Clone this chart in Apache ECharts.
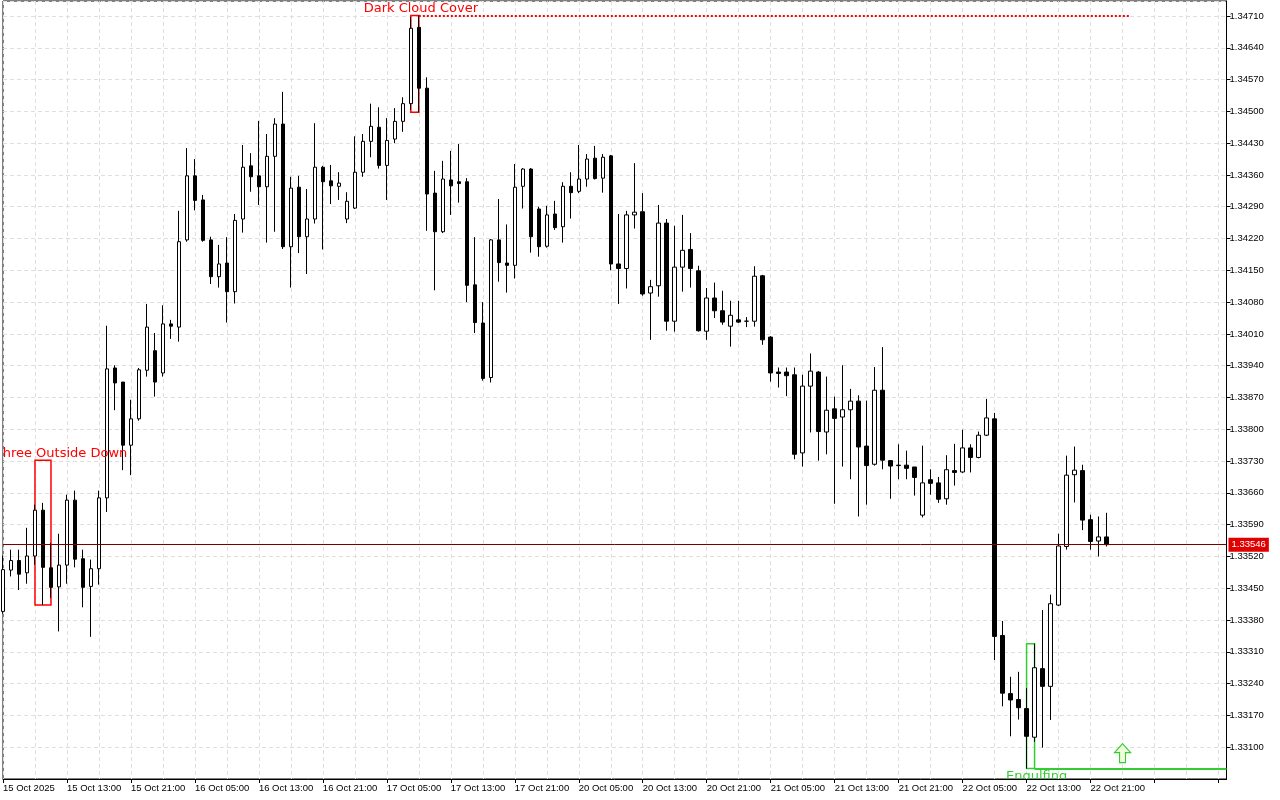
<!DOCTYPE html>
<html><head><meta charset="utf-8">
<script src="https://cdn.jsdelivr.net/npm/echarts@6/dist/echarts.min.js"></script>
<style>html,body{margin:0;padding:0;background:#fff}#c{width:1280px;height:800px}</style>
</head><body><div id="c"></div>
<script>
// Hourly candles, 15 Oct 2025 05:00 -> 22 Oct 2025 23:00 (139 bars)
const tickLabels = ['15 Oct 2025','15 Oct 13:00','15 Oct 21:00','16 Oct 05:00','16 Oct 13:00','16 Oct 21:00',
  '17 Oct 05:00','17 Oct 13:00','17 Oct 21:00','20 Oct 05:00','20 Oct 13:00','20 Oct 21:00',
  '21 Oct 05:00','21 Oct 13:00','21 Oct 21:00','22 Oct 05:00','22 Oct 13:00','22 Oct 21:00'];

const open = [
1.33399,1.33490,1.33511,1.33484,1.33521,1.33622,1.33495,1.33453,1.33501,1.33644,
1.33515,1.33454,1.33493,1.33649,1.33935,1.33904,1.33765,1.33823,1.33930,1.33973,
1.33924,1.34032,1.34025,1.34217,1.34358,1.34305,1.34217,1.34136,1.34166,1.34103,
1.34263,1.34380,1.34358,1.34334,1.34401,1.34472,1.34202,1.34333,1.34224,1.34263,
1.34377,1.34347,1.34335,1.34263,1.34287,1.34366,1.34434,1.34465,1.34381,1.34439,
1.34478,1.34517,1.34685,1.34551,1.34320,1.34235,1.34349,1.34345,1.34345,1.34118,
1.34034,1.33914,1.34217,1.34166,1.34161,1.34335,1.34373,1.34285,1.34203,1.34274,
1.34246,1.34335,1.34324,1.34351,1.34397,1.34353,1.34402,1.34164,1.34154,1.34272,
1.34279,1.34100,1.34116,1.34254,1.34038,1.34157,1.34196,1.34149,1.34016,1.34089,
1.34061,1.34027,1.34041,1.34038,1.34038,1.34138,1.34003,1.33926,1.33926,1.33920,
1.33748,1.33895,1.33926,1.33794,1.33845,1.33827,1.33843,1.33862,1.33763,1.33723,
1.33886,1.33731,1.33721,1.33721,1.33717,1.33611,1.33689,1.33682,1.33647,1.33709,
1.33706,1.33759,1.33738,1.33787,1.33823,1.33346,1.33218,1.33205,1.33185,1.33122,
1.33273,1.33234,1.33413,1.33542,1.33700,1.33709,1.33601,1.33554,1.33563];

const close = [
1.33491,1.33511,1.33481,1.33521,1.33622,1.33496,1.33452,1.33501,1.33644,1.33514,
1.33452,1.33493,1.33649,1.33933,1.33902,1.33765,1.33823,1.33931,1.34025,1.33904,
1.34032,1.34027,1.34213,1.34358,1.34304,1.34216,1.34136,1.34164,1.34103,1.34260,
1.34377,1.34356,1.34334,1.34401,1.34472,1.34202,1.34331,1.34224,1.34263,1.34377,
1.34345,1.34336,1.34342,1.34302,1.34366,1.34434,1.34467,1.34381,1.34436,1.34478,
1.34517,1.34683,1.34551,1.34318,1.34235,1.34351,1.34336,1.34341,1.34117,1.34035,
1.33912,1.34217,1.34167,1.34161,1.34333,1.34373,1.34224,1.34202,1.34272,1.34244,
1.34335,1.34321,1.34351,1.34395,1.34352,1.34399,1.34164,1.34154,1.34272,1.34278,
1.34098,1.34114,1.34254,1.34038,1.34157,1.34194,1.34154,1.34017,1.34089,1.34061,
1.34036,1.34051,1.34036,1.34038,1.34137,1.33997,1.33924,1.33923,1.33918,1.33745,
1.33895,1.33928,1.33795,1.33842,1.33824,1.33843,1.33862,1.33761,1.33720,1.33886,
1.33732,1.33719,1.33720,1.33714,1.33694,1.33682,1.33681,1.33646,1.33711,1.33705,
1.33759,1.33738,1.33787,1.33825,1.33344,1.33219,1.33204,1.33187,1.33124,1.33275,
1.33234,1.33416,1.33543,1.33699,1.33710,1.33600,1.33553,1.33563,1.33546];

const high = [
1.33522,1.33535,1.33535,1.33583,1.33634,1.33638,1.33550,1.33570,1.33656,1.33665,
1.33535,1.33513,1.33665,1.34028,1.33941,1.33904,1.33865,1.33935,1.34076,1.34012,
1.34073,1.34041,1.34281,1.34419,1.34395,1.34316,1.34224,1.34206,1.34223,1.34274,
1.34426,1.34408,1.34479,1.34450,1.34485,1.34543,1.34356,1.34358,1.34329,1.34474,
1.34380,1.34382,1.34366,1.34322,1.34445,1.34450,1.34517,1.34509,1.34485,1.34507,
1.34531,1.34708,1.34711,1.34575,1.34369,1.34391,1.34413,1.34428,1.34353,1.34223,
1.34080,1.34219,1.34307,1.34251,1.34384,1.34375,1.34375,1.34290,1.34292,1.34303,
1.34344,1.34366,1.34426,1.34406,1.34424,1.34406,1.34404,1.34274,1.34281,1.34386,
1.34320,1.34129,1.34294,1.34263,1.34248,1.34272,1.34232,1.34160,1.34111,1.34123,
1.34105,1.34083,1.34083,1.34047,1.34159,1.34140,1.34005,1.33936,1.33936,1.33936,
1.33920,1.33967,1.33928,1.33916,1.33872,1.33941,1.33889,1.33875,1.33863,1.33937,
1.33981,1.33731,1.33767,1.33753,1.33717,1.33764,1.33712,1.33695,1.33743,1.33768,
1.33799,1.33767,1.33795,1.33867,1.33836,1.33378,1.33255,1.33266,1.33230,1.33328,
1.33402,1.33436,1.33570,1.33742,1.33762,1.33722,1.33612,1.33608,1.33616];

const low = [
1.33394,1.33476,1.33446,1.33460,1.33502,1.33413,1.33429,1.33355,1.33460,1.33496,
1.33408,1.33343,1.33458,1.33618,1.33842,1.33710,1.33699,1.33819,1.33916,1.33872,
1.33916,1.33999,1.33993,1.34213,1.34282,1.34213,1.34120,1.34112,1.34035,1.34077,
1.34233,1.34323,1.34294,1.34211,1.34235,1.34197,1.34112,1.34188,1.34142,1.34253,
1.34196,1.34296,1.34305,1.34254,1.34285,1.34356,1.34399,1.34374,1.34305,1.34430,
1.34455,1.34503,1.34498,1.34237,1.34106,1.34232,1.34272,1.34299,1.34080,1.34012,
1.33907,1.33903,1.34125,1.34101,1.34132,1.34286,1.34189,1.34180,1.34200,1.34239,
1.34211,1.34264,1.34320,1.34334,1.34350,1.34321,1.34150,1.34076,1.34110,1.34242,
1.34094,1.33997,1.34092,1.34017,1.34015,1.34103,1.34112,1.34015,1.33997,1.34045,
1.34030,1.33982,1.34034,1.34025,1.34026,1.33986,1.33905,1.33892,1.33873,1.33734,
1.33718,1.33793,1.33731,1.33745,1.33636,1.33718,1.33690,1.33608,1.33634,1.33720,
1.33712,1.33647,1.33690,1.33690,1.33654,1.33606,1.33656,1.33638,1.33634,1.33676,
1.33704,1.33705,1.33736,1.33785,1.33292,1.33190,1.33124,1.33161,1.33053,1.33112,
1.33099,1.33160,1.33411,1.33535,1.33639,1.33578,1.33535,1.33520,1.33542];

// Pattern annotations
const patternNames   = ['Three Outside Down', 'Dark Cloud Cover', 'Engulfing'];
const patternColors  = ['#ff0000', '#ff0000', '#32cd32'];
const patternFrom    = [4, 51, 128];          // first bar of pattern box
const patternTo      = [6, 52, 129];          // last bar of pattern box
const patternTop     = [1.33732, 1.34711, 1.33328];
const patternBottom  = [1.33413, 1.34498, 1.33053];
const patternLabelAt = [7, 52, 129];          // bar the label is centred on
const patternAbove   = [true, true, false];   // label above box top / below box bottom
const levelLines = [ // pattern level extensions
  {from: 52, to: 141, price: 1.34711, color: '#ff0000', type: 'dotted'},
  {from: 129, to: 153, price: 1.33053, color: '#32cd32', type: 'solid'}
];
const arrowBar = 140, arrowPrice = 1.33087;
const lastPrice = 1.33546;

// Axis settings
const yMin = 1.33030, yMax = 1.34743, yStep = 0.0007;
const slotCount = 154;

const categories = Array.from({length: slotCount}, (_, i) => String(i));
const candles = open.map((o, i) => [o, close[i], low[i], high[i]]);

const GRID_C = '#dedede';
const AX_FONT = 'Liberation Sans';
const chart = echarts.init(document.getElementById('c'), null, {renderer: 'canvas'});
chart.setOption({
  animation: false,
  backgroundColor: '#ffffff',
  grid: {left: 2.5, right: 53.5, top: 1, bottom: 21, show: true, borderColor: '#000', borderWidth: 1, backgroundColor: 'transparent'},
  xAxis: {
    type: 'category', data: categories, boundaryGap: false,
    axisLine: {show: true, lineStyle: {color: '#000', width: 1}},
    axisTick: {show: true, interval: 7, length: 4, lineStyle: {color: '#000'}},
    axisLabel: {interval: 7, align: 'left', color: '#000', fontSize: 9.5, fontFamily: AX_FONT, margin: 4,
      formatter: (v) => { const n = Number(v); return n % 8 === 0 ? (tickLabels[n / 8] || '') : ''; }},
    splitLine: {show: true, interval: 3, lineStyle: {color: GRID_C, type: [4, 3], width: 1}}
  },
  yAxis: {
    type: 'value', position: 'right', min: yMin, max: yMax, interval: yStep, scale: true,
    axisLine: {show: true, lineStyle: {color: '#000', width: 1}},
    axisTick: {show: true, length: 4, lineStyle: {color: '#000'}},
    axisLabel: {color: '#000', fontSize: 9.5, fontFamily: AX_FONT, margin: 3, showMinLabel: false, showMaxLabel: false,
      formatter: (v) => v.toFixed(5)},
    splitLine: {show: true, lineStyle: {color: GRID_C, type: [4, 3], width: 1}}
  },
  series: [
    {
      type: 'candlestick', data: candles, barWidth: 4, clip: false,
      itemStyle: {color: '#ffffff', color0: '#000000', borderColor: '#000000', borderColor0: '#000000', borderWidth: 1},
      markArea: {
        silent: true,
        data: patternNames.map((n, k) => [
          {coord: [patternFrom[k], patternTop[k]], itemStyle: {color: 'rgba(0,0,0,0)', borderColor: patternColors[k], borderWidth: 1.5}},
          {coord: [patternTo[k], patternBottom[k]]}
        ])
      },
      markLine: {
        silent: true, symbol: ['none', 'none'], label: {show: false},
        data: levelLines.map(l => [
          {coord: [l.from, l.price], lineStyle: {color: l.color, type: l.type, width: 2}},
          {coord: [l.to, l.price]}
        ]).concat([[
          {coord: [0, lastPrice], lineStyle: {color: '#7a0000', type: 'solid', width: 1},
           label: {show: true, position: 'end', distance: 2, formatter: lastPrice.toFixed(5), backgroundColor: '#e00000',
                   color: '#fff', fontSize: 9.5, fontFamily: AX_FONT, padding: [2, 3, 2, 3]}},
          {coord: [slotCount - 1, lastPrice]}
        ]])
      },
      markPoint: {
        silent: true,
        data: [{coord: [arrowBar, arrowPrice], symbol: 'path://M8,0L16,9L11,9L11,19L5,19L5,9L0,9Z', symbolSize: [16, 19],
                itemStyle: {color: '#ecffd8', borderColor: '#33cc33', borderWidth: 1.2}, label: {show: false}}]
      }
    },
    {
      type: 'custom', clip: true, silent: true, z: 6,
      data: patternNames.map((n, k) => [patternLabelAt[k], patternAbove[k] ? patternTop[k] : patternBottom[k]]),
      encode: {x: 0, y: 1},
      renderItem: (params, api) => {
        const k = params.dataIndex;
        const p = api.coord([api.value(0), api.value(1)]);
        return {type: 'text', x: p[0] + 2, y: p[1] + (patternAbove[k] ? -7 : 8),
          style: {text: patternNames[k], fill: patternColors[k], font: '13px "DejaVu Sans"', align: 'center', verticalAlign: 'middle'}};
      }
    }
  ]
});
</script></body></html>
